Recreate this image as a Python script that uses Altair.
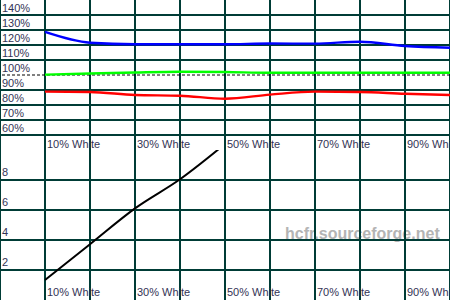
import altair as alt
import pandas as pd

# ---- data ----
levels = [10, 20, 30, 40, 50, 60, 70, 80, 90, 100]
red = [88.9, 88.7, 86.7, 86.2, 84.2, 86.9, 88.9, 88.7, 87.5, 86.7]
green = [100.2, 101.0, 101.7, 102.2, 102.0, 101.5, 101.5, 101.5, 101.5, 101.5]
blue = [128.7, 121.5, 120.5, 120.5, 120.5, 121.0, 120.9, 122.2, 119.3, 118.2]

delta_levels = [10, 20, 30, 40, 50]
delta_e = [1.33, 3.72, 6.11, 8.05, 10.4]

x_grid = [0, 10, 20, 30, 40, 50, 60, 70, 80, 90, 100]
x_label_levels = [10, 30, 50, 70, 90]
x_label_text = ["10% White", "30% White", "50% White", "70% White", "90% White"]
rgb_grid = [60, 70, 80, 90, 110, 120, 130, 140]
rgb_ticks = [60, 70, 80, 90, 100, 110, 120, 130, 140]
rgb_tick_text = ["60%", "70%", "80%", "90%", "100%", "110%", "120%", "130%", "140%"]
de_ticks = [2, 4, 6, 8]
de_tick_text = ["2", "4", "6", "8"]
ref_level = [100]
watermark = ["hcfr.sourceforge.net"]

GRID = "#003c36"
LABEL = "#333355"
FONT = "Liberation Sans"

rgb_df = pd.DataFrame({
    "level": levels * 3,
    "value": red + green + blue,
    "channel": ["Red"] * len(levels) + ["Green"] * len(levels) + ["Blue"] * len(levels),
})
de_df = pd.DataFrame({"level": delta_levels, "de": delta_e})
ref_df = pd.DataFrame({"ref": ref_level})
wm_df = pd.DataFrame({"t": watermark})
xgrid_df = pd.DataFrame({"level": x_grid})
xlab_df = pd.DataFrame({"level": x_label_levels, "t": x_label_text})
ygrid_top_df = pd.DataFrame({"v": rgb_grid})
ylab_top_df = pd.DataFrame({"v": rgb_ticks, "t": rgb_tick_text})
ylab_bot_df = pd.DataFrame({"v": de_ticks, "t": de_tick_text})

x_scale = alt.Scale(domain=[0, 100], nice=False, zero=False)
y_top_scale = alt.Scale(domain=[50, 150], nice=False, zero=False)
y_bot_scale = alt.Scale(domain=[0, 10], nice=False, zero=False)

X = lambda f: alt.X(f, scale=x_scale, axis=None)


def vgrid():
    return alt.Chart(xgrid_df).mark_rule(color=GRID, strokeWidth=2, clip=True).encode(
        x=X("level:Q"))


def xlabels(ypix):
    return alt.Chart(xlab_df).mark_text(
        align="left", baseline="alphabetic", dx=2, font=FONT, fontSize=11,
        color=LABEL, clip=True,
    ).encode(x=X("level:Q"), y=alt.value(ypix), text="t:N")


def hgrid(df, scale):
    return alt.Chart(df).mark_rule(color=GRID, strokeWidth=2, clip=True).encode(
        y=alt.Y("v:Q", scale=scale, axis=None))


def ylabels(df, scale, dy):
    return alt.Chart(df).mark_text(
        align="left", baseline="alphabetic", dx=0, dy=dy, font=FONT, fontSize=11,
        color=LABEL, clip=True,
    ).encode(x=alt.value(2), y=alt.Y("v:Q", scale=scale, axis=None), text="t:N")


top_lines = alt.Chart(rgb_df).mark_line(strokeWidth=2.4, interpolate="monotone", clip=True).encode(
    x=X("level:Q"),
    y=alt.Y("value:Q", scale=y_top_scale, axis=None),
    color=alt.Color("channel:N", scale=alt.Scale(domain=["Red", "Green", "Blue"],
                                                 range=["#ff0000", "#00ff00", "#0000ff"]),
                    legend=None),
    detail="channel:N",
)

ref_rule = alt.Chart(ref_df).mark_rule(color="black", strokeDash=[3, 2], strokeWidth=1,
                                       clip=True).encode(
    y=alt.Y("ref:Q", scale=y_top_scale, axis=None),
)

top = alt.layer(
    vgrid(), hgrid(ygrid_top_df, y_top_scale), ylabels(ylab_top_df, y_top_scale, -3),
    xlabels(147.5), ref_rule, top_lines,
).properties(width=450, height=150)

bot_line = alt.Chart(de_df).mark_line(color="black", strokeWidth=2, clip=True,
                                      interpolate="monotone").encode(
    x=X("level:Q"),
    y=alt.Y("de:Q", scale=y_bot_scale, axis=None),
)

wm = alt.Chart(wm_df).mark_text(
    align="left", baseline="alphabetic", font=FONT, fontSize=16, fontWeight="bold",
    color="#b4b4b4", clip=True,
).encode(x=alt.value(285), y=alt.value(89), text="t:N")

bottom = alt.layer(
    wm, vgrid(), hgrid(ylab_bot_df, y_bot_scale), ylabels(ylab_bot_df, y_bot_scale, -4),
    xlabels(146), bot_line,
).properties(width=450, height=150)

chart = alt.vconcat(top, bottom, spacing=0, bounds="flush").properties(
    padding=0, background="white"
).configure_view(stroke=None)

chart.save("out.html", embed_options={"renderer": "svg", "actions": False})
